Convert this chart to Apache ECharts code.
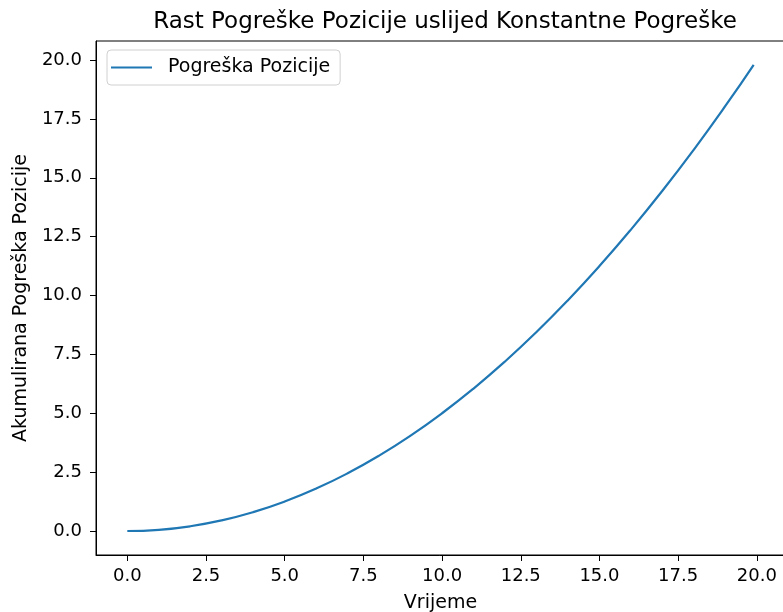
<!DOCTYPE html>
<html>
<head>
<meta charset="utf-8">
<script src="https://cdn.jsdelivr.net/npm/echarts@6/dist/echarts.min.js"></script>
<style>html,body{margin:0;padding:0;background:#fff}#c{width:783px;height:612px}</style>
</head>
<body>
<div id="c"></div>
<script>
// Data
const vrijeme = [0,1,2,3,4,5,6,7,8,9,10,11,12,13,14,15,16,17,18,19,19.9];
const pogreska = [0,0.05,0.2,0.45,0.8,1.25,1.8,2.45,3.2,4.05,5.0,6.05,7.2,8.45,9.8,11.25,12.8,14.45,16.2,18.05,19.8];
const xTicks = [0,2.5,5,7.5,10,12.5,15,17.5,20];
const yTicks = [0,2.5,5,7.5,10,12.5,15,17.5,20];
const naslov = 'Rast Pogreške Pozicije uslijed Konstantne Pogreške';
const nazivSerije = 'Pogreška Pozicije';
const xNaziv = 'Vrijeme';
const yNaziv = 'Akumulirana Pogreška Pozicije';

const font = 'DejaVu Sans';
const chart = echarts.init(document.getElementById('c'), null, {renderer:'canvas'});
chart.setOption({
  animation:false,
  textStyle:{fontFamily:font},
  title:{text:naslov,left:440,top:6,textAlign:'center',textStyle:{fontFamily:font,fontSize:23,fontWeight:'normal',color:'#000'}},
  legend:{left:107,top:50,orient:'vertical',itemWidth:41,itemHeight:19,itemGap:6,padding:[8,10,8,4],
    borderColor:'#d0d0d0',borderWidth:1,borderRadius:4,backgroundColor:'#fff',
    textStyle:{fontFamily:font,fontSize:19,color:'#000',padding:[0,0,0,11]},
    data:[{name:nazivSerije,icon:'path://M0,0L41,0L41,2.2L0,2.2Z',itemStyle:{color:'#1f77b4'}}]},
  grid:{left:96,top:41,width:689,height:514,show:true,borderColor:'#000',borderWidth:1,containLabel:false,outerBoundsMode:'none'},
  xAxis:{type:'value',min:-0.995,max:20.895,
    name:xNaziv,nameLocation:'middle',nameGap:39,nameTextStyle:{fontFamily:font,fontSize:19,color:'#000'},
    axisLine:{show:true,onZero:false,lineStyle:{color:'#000',width:1}},
    axisTick:{show:true,length:6,customValues:xTicks,lineStyle:{color:'#000'}},
    axisLabel:{customValues:xTicks,margin:12,formatter:v=>v.toFixed(1),fontFamily:font,fontSize:18,color:'#000'},
    splitLine:{show:false}},
  yAxis:{type:'value',min:-1.02,max:20.81,
    name:yNaziv,nameLocation:'middle',nameGap:65,nameTextStyle:{fontFamily:font,fontSize:19,color:'#000'},
    axisLine:{show:true,onZero:false,lineStyle:{color:'#000',width:1}},
    axisTick:{show:true,length:6,customValues:yTicks,lineStyle:{color:'#000'}},
    axisLabel:{customValues:yTicks,margin:14,formatter:v=>v.toFixed(1),fontFamily:font,fontSize:18,color:'#000'},
    splitLine:{show:false}},
  series:[{name:nazivSerije,type:'line',data:vrijeme.map((t,i)=>[t,pogreska[i]]),
    smooth:true,symbol:'none',lineStyle:{color:'#1f77b4',width:2.2},itemStyle:{color:'#1f77b4'}}]
});
</script>
</body>
</html>
